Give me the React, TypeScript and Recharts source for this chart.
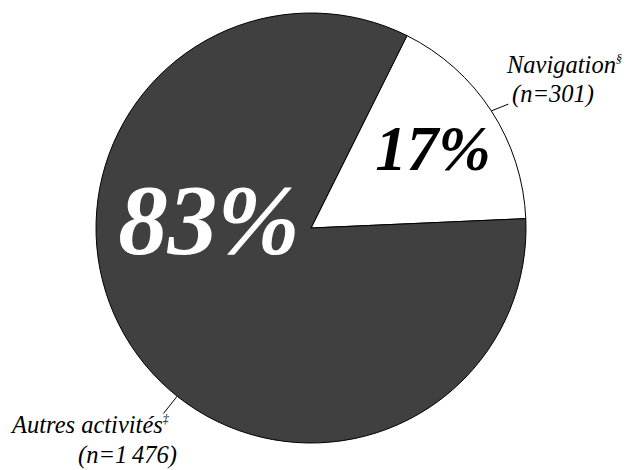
import React from "react";
import { Cell, Pie, PieChart } from "recharts";

// slice order follows the original: Navigation first, counter-clockwise
const labels = ["Navigation", "Autres activités"];
const marks = ["§", "‡"];
const counts = [301, 1476];
const countText = ["(n=301)", "(n=1\u2009476)"];
const percents = ["17%", "83%"];
const fills = ["#ffffff", "#404040"];

const data = labels.map((name, i) => ({ name, value: counts[i] }));

const FONT = "Liberation Serif, DejaVu Serif, serif";
const RAD = Math.PI / 180;
const txt = { fontFamily: FONT, fontStyle: "italic" } as const;

function SliceLabel(props: any) {
  const { cx, cy, outerRadius, index } = props;
  const polar = (angle: number, r: number) => ({
    x: cx + r * Math.cos(-angle * RAD),
    y: cy + r * Math.sin(-angle * RAD),
  });

  if (index === 0) {
    const a = polar(33, outerRadius);
    const b = polar(33, outerRadius + 18);
    return (
      <g>
        <text x={cx + 122} y={cy - 58} textAnchor="middle" style={{ ...txt, fontSize: 63, fontWeight: "bold" }} fill="#000">
          {percents[0]}
        </text>
        <line x1={a.x} y1={a.y} x2={b.x + 2} y2={b.y + 3} stroke="#000" strokeWidth={1} />
        <text x={cx + 196} y={cy - 155} style={{ ...txt, fontSize: 24.5 }} fill="#000">
          {labels[0]}
          <tspan style={{ fontSize: 12 }} dy={-10}>{marks[0]}</tspan>
        </text>
        <text x={cx + 201} y={cy - 126} style={{ ...txt, fontSize: 24.5 }} fill="#000">
          {countText[0]}
        </text>
      </g>
    );
  }

  const a = polar(231.5, outerRadius);
  const b = polar(231.5, outerRadius + 22);
  return (
    <g>
      <text x={cx - 102} y={cy + 25} textAnchor="middle" style={{ ...txt, fontSize: 99, fontWeight: "bold" }} fill="#fff">
        {percents[1]}
      </text>
      <line x1={a.x} y1={a.y} x2={b.x} y2={b.y} stroke="#000" strokeWidth={1} />
      <text x={cx - 299} y={cy + 205} style={{ ...txt, fontSize: 24.5 }} fill="#000">
        {labels[1]}
        <tspan style={{ fontSize: 12 }} dy={-10}>{marks[1]}</tspan>
      </text>
      <text x={cx - 233} y={cy + 235} style={{ ...txt, fontSize: 24.5 }} fill="#000">
        {countText[1]}
      </text>
    </g>
  );
}

export default function App() {
  return (
    <div style={{ position: "absolute", left: 0, top: 0, width: 633, height: 470, background: "#fff" }}>
      <PieChart width={633} height={470} margin={{ top: 0, right: 0, bottom: 0, left: 0 }}>
        <Pie
          data={data}
          dataKey="value"
          cx={311}
          cy={228}
          outerRadius={215}
          startAngle={2.5}
          endAngle={362.5}
          stroke="#000"
          strokeWidth={1}
          label={SliceLabel}
          labelLine={false}
          isAnimationActive={false}
        >
          {data.map((d, i) => (
            <Cell key={d.name} fill={fills[i]} />
          ))}
        </Pie>
      </PieChart>
    </div>
  );
}
